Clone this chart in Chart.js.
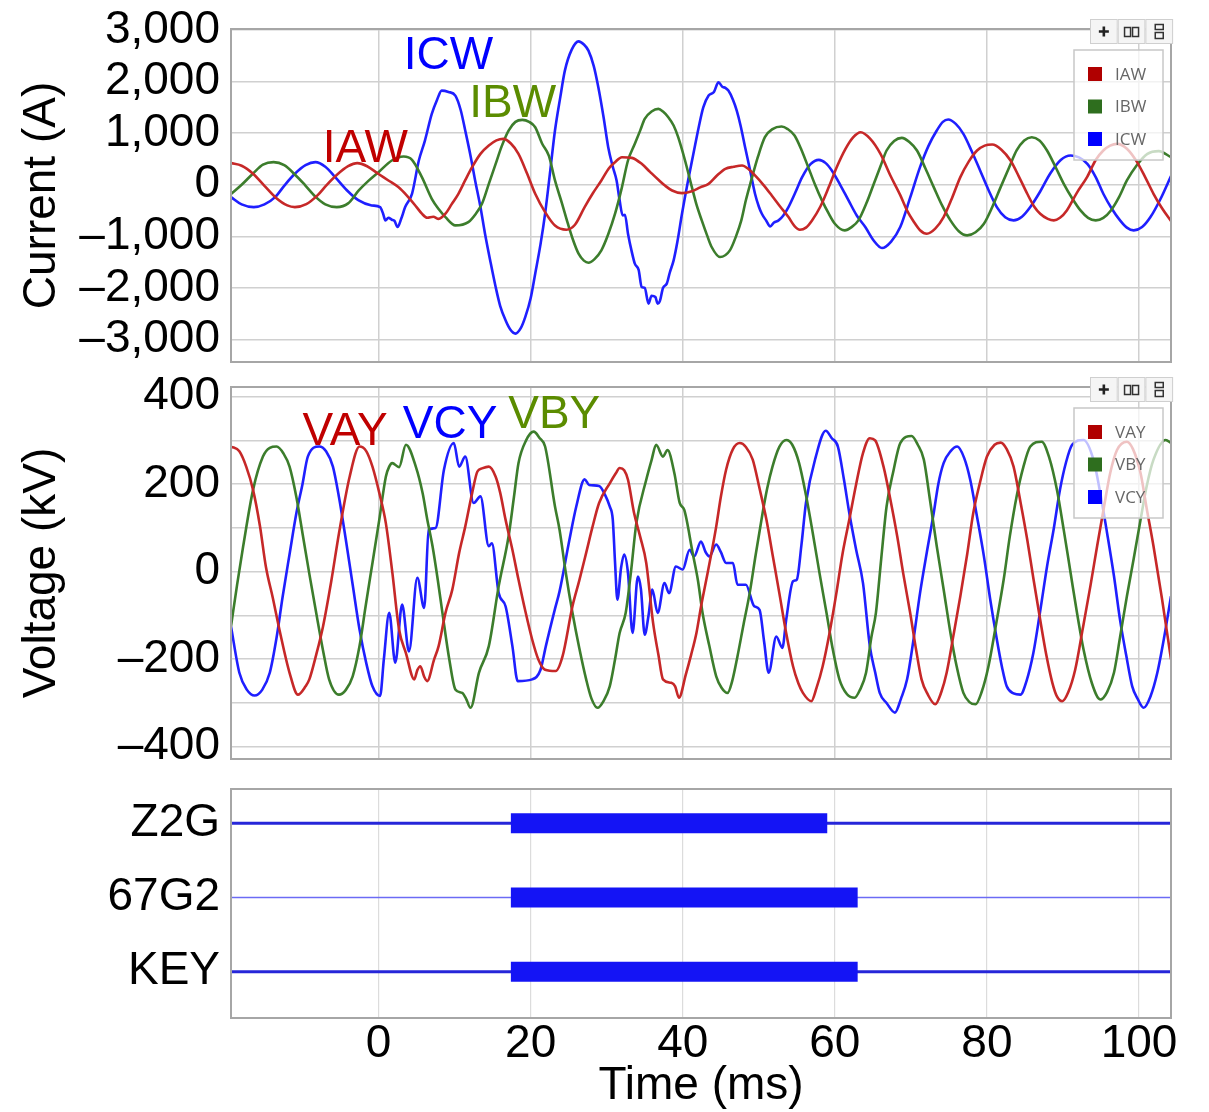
<!DOCTYPE html>
<html>
<head>
<meta charset="utf-8">
<title>Event record</title>
<script src="https://cdn.jsdelivr.net/npm/chart.js@4.4.0/dist/chart.umd.min.js"></script>
<style>
  body { margin: 0; background: #fff; }
  #wrap { position: relative; width: 1209px; height: 1112px; overflow: hidden; }
  #wrap canvas { position: absolute; left: 0; }
</style>
</head>
<body>
<div id="wrap">
  <canvas id="cur" width="1209" height="372" style="top:0px"></canvas>
  <canvas id="volt" width="1209" height="395" style="top:375px"></canvas>
  <canvas id="dig" width="1209" height="342" style="top:770px"></canvas>
</div>
<script>
// --- time axis ---
const T_MIN = -19.4;
const T_MAX = 104.2;
const TIME_TICKS = [0, 20, 40, 60, 80, 100];
const CURRENT_TICKS = [-3000, -2000, -1000, 0, 1000, 2000, 3000];
const VOLTAGE_TICKS = [-400, -300, -200, -100, 0, 100, 200, 300, 400];

// --- phase currents, [ms, A] ---
const iaw = [[-19.4,420],[-18,370],[-16.5,215],[-15,-20],[-13.5,-250],[-12,-400],[-11,-432],[-9.5,-375],[-8,-200],[-6.8,0],[-5.5,190],[-4,360],[-2.8,420],[-1.5,360],[0,210],[1.3,84],[2.6,-45],[3.7,-206],[5,-432],[5.7,-560],[6.4,-640],[7.2,-620],[7.9,-660],[8.8,-560],[9.6,-380],[10.5,-174],[11.4,90],[12.3,342],[13.4,600],[14.5,761],[15.5,860],[16.4,890],[17.4,800],[18.4,600],[19.5,230],[20.6,-174],[21.9,-530],[23.2,-790],[24.7,-871],[25.8,-780],[27.1,-432],[28.2,-160],[29.3,84],[30.3,320],[31.1,439],[32,535],[33.3,522],[34.6,406],[35.7,250],[36.8,97],[37.7,-20],[38.6,-110],[39.9,-161],[41.2,-123],[42.3,-50],[43.4,19],[44.5,180],[45.6,310],[46.7,350],[47.8,374],[48.6,310],[49.5,181],[50.6,0],[51.7,-206],[52.8,-420],[53.9,-626],[54.7,-800],[55.4,-871],[56.2,-830],[57,-690],[58.1,-420],[59.2,-45],[60.3,360],[61.4,697],[62.4,920],[63.4,1019],[64.6,900],[66,600],[67.3,180],[68.6,-200],[69.5,-500],[70.4,-720],[71.2,-880],[72.1,-948],[73.2,-850],[74.3,-626],[75.4,-260],[76.5,148],[77.6,450],[78.7,665],[79.7,760],[80.7,780],[81.9,680],[83.1,471],[84.2,160],[85.3,-174],[86.2,-420],[87,-561],[88,-660],[88.8,-690],[89.6,-640],[90.5,-497],[91.8,-160],[93.2,160],[94.3,480],[95.3,665],[96.2,760],[97.1,794],[98.4,700],[99.7,450],[100.8,150],[101.9,-174],[103,-450],[104.2,-700]];
const ibw = [[-19.4,-180],[-18,0],[-16.5,220],[-15.2,390],[-13.8,439],[-12.4,380],[-11,200],[-9.7,0],[-8.3,-230],[-7,-380],[-5.5,-432],[-4,-360],[-2.6,-110],[-1.3,80],[0,245],[1.75,471],[3.3,548],[4.4,484],[5.7,148],[7,-271],[7.9,-470],[8.8,-626],[10.1,-787],[11.8,-723],[12.8,-560],[13.6,-368],[14.5,19],[15.4,406],[16.2,750],[17.1,1052],[18,1220],[18.9,1258],[19.8,1220],[20.6,1116],[21.5,800],[22.4,560],[23.2,84],[24.1,-350],[24.9,-755],[25.6,-1080],[26.3,-1335],[27,-1470],[27.6,-1510],[28.4,-1440],[29.3,-1271],[30.2,-960],[31.1,-561],[32,-50],[32.8,471],[33.7,794],[34.4,1050],[35,1277],[35.9,1420],[36.8,1471],[37.4,1420],[38.1,1310],[38.8,1150],[39.4,923],[40.3,471],[41.2,-45],[41.8,-380],[42.5,-690],[43.2,-980],[43.8,-1206],[44.9,-1400],[46.2,-1271],[47,-1000],[47.7,-690],[48.3,-300],[49,84],[49.9,550],[50.8,923],[51.8,1080],[53,1129],[53.8,1080],[54.7,955],[55.6,680],[56.5,342],[57.4,0],[58.3,-303],[59.2,-560],[60,-755],[61.3,-884],[62.2,-820],[63.1,-690],[64.2,-340],[65.2,50],[66,360],[66.8,665],[67.8,850],[68.8,910],[69.8,830],[70.8,665],[71.9,320],[73,-45],[74.1,-400],[75.2,-690],[76.3,-900],[77.4,-981],[78.5,-920],[79.6,-755],[80.7,-430],[81.8,-45],[82.9,330],[83.9,665],[84.9,860],[85.9,923],[86.9,860],[87.9,665],[89,350],[90.1,19],[91.2,-260],[92.3,-497],[93.3,-640],[94.3,-690],[95.3,-640],[96.3,-497],[97.4,-230],[98.4,84],[99.7,380],[101.1,600],[102.6,652],[104.2,535]];
const icw = [[-19.4,-239],[-18,-380],[-16.4,-432],[-15,-380],[-13.6,-239],[-12.3,0],[-11,213],[-9.6,380],[-8.3,439],[-7,350],[-5.7,148],[-4.2,-100],[-2.6,-303],[-0.9,-400],[0.2,-432],[0.6,-560],[0.9,-690],[1.3,-640],[1.75,-677],[2.1,-700],[2.5,-819],[3,-650],[3.5,-432],[4.4,-174],[5.3,471],[6.1,858],[7,1374],[7.7,1650],[8.3,1826],[9.2,1800],[10.1,1729],[10.8,1450],[11.4,1052],[12.1,560],[12.7,84],[13.4,-430],[14,-948],[14.7,-1480],[15.4,-1981],[16,-2350],[16.7,-2626],[17.3,-2800],[18,-2884],[18.7,-2780],[19.3,-2561],[20,-2200],[20.6,-1723],[21.3,-1150],[21.9,-561],[22.6,300],[23.2,1052],[23.9,1700],[24.5,2213],[25.4,2620],[26.3,2781],[27,2720],[27.6,2600],[28.3,2300],[28.9,1890],[29.6,1300],[30.2,729],[30.8,350],[31.3,84],[31.7,-300],[32.1,-594],[32.4,-580],[32.8,-948],[33.3,-1300],[33.7,-1529],[34.2,-1650],[34.6,-1981],[35,-2000],[35.5,-2303],[35.9,-2150],[36.4,-2174],[36.7,-2303],[37,-2250],[37.4,-2000],[37.9,-1916],[38.3,-1700],[38.8,-1465],[39.3,-1100],[39.9,-561],[40.7,84],[41.4,600],[42.1,1116],[42.7,1500],[43.4,1729],[44.1,1800],[44.7,1987],[45.2,1900],[45.6,1880],[46,1826],[46.6,1650],[47.1,1439],[47.6,1150],[48.2,729],[48.9,250],[49.5,-174],[50,-420],[50.4,-561],[51,-700],[51.5,-806],[52,-730],[52.6,-690],[53.2,-600],[53.9,-432],[54.8,-150],[55.7,148],[56.8,400],[57.9,484],[58.8,420],[59.6,277],[60.7,0],[61.8,-303],[62.9,-600],[64,-819],[65.1,-1080],[66.2,-1226],[67.4,-1100],[68.6,-819],[69.9,-250],[71.2,342],[72.3,750],[73.4,1052],[74.2,1220],[74.9,1265],[75.9,1180],[76.9,987],[78,650],[79.1,277],[80.2,-100],[81.3,-432],[82.4,-630],[83.5,-690],[84.6,-620],[85.7,-432],[87,-130],[88.3,213],[89.7,480],[91,568],[92.1,530],[93.2,406],[94.3,150],[95.3,-174],[96.4,-460],[97.5,-690],[98.4,-830],[99.3,-884],[100.4,-820],[101.5,-626],[102.8,-280],[104.2,170]];

// --- phase voltages, [ms, kV] ---
const vay = [[-19.4,286],[-18.3,275],[-17.4,240],[-16.5,187],[-15.6,105],[-14.8,10],[-13.9,-60],[-13,-135],[-11.7,-231],[-10.6,-281],[-9.6,-262],[-9.1,-246],[-8.2,-190],[-7.3,-125],[-6.2,-20],[-5.2,88],[-3.8,217],[-2.5,286],[-1.6,275],[-0.8,240],[0.1,180],[0.96,111],[1.8,0],[2.7,-132],[3.6,-186],[4.7,-246],[5.1,-225],[5.5,-216],[6,-240],[6.4,-250],[7.3,-201],[7.9,-170],[8.8,-94],[9.7,-41],[10.6,43],[11.4,103],[12.3,179],[13,229],[13.6,236],[14.5,240],[15.4,217],[16,180],[16.7,119],[17.6,50],[18.4,-18],[19.3,-90],[20.2,-155],[21,-200],[21.9,-224],[23.3,-227],[24.2,-193],[25.5,-79],[26.4,-20],[27.3,43],[28.1,100],[29,157],[30.4,202],[31.2,225],[31.7,237],[32.3,232],[32.8,210],[33.6,134],[34.4,80],[35.2,20],[36.1,-117],[36.8,-190],[37.4,-246],[38.5,-254],[39,-262],[39.5,-288],[40.4,-235],[41.1,-190],[41.8,-140],[42.4,-80],[43.1,-18],[43.8,45],[44.4,103],[45,170],[45.7,233],[46.6,280],[47.5,294],[48.3,285],[49.2,256],[50.1,190],[51,119],[51.8,40],[52.7,-49],[53.6,-140],[54.5,-216],[55.2,-255],[55.8,-277],[56.9,-296],[57.6,-265],[58.4,-216],[59.3,-140],[60.2,-49],[61,40],[61.9,119],[62.8,200],[63.7,271],[64.6,305],[65.3,300],[66.4,240],[67.3,165],[68.2,81],[69,-5],[69.9,-94],[70.7,-180],[71.4,-246],[72.2,-280],[73.2,-303],[74,-275],[74.7,-231],[75.6,-145],[76.5,-56],[77.4,40],[78.2,134],[79.1,205],[80,263],[81,290],[81.8,295],[82.6,280],[83.5,240],[84.4,160],[85.3,73],[86.1,-15],[87,-110],[87.8,-190],[88.6,-254],[89.2,-285],[89.9,-296],[90.7,-275],[91.6,-224],[92.6,-130],[93.6,-33],[94.5,60],[95.4,149],[96.2,225],[97.1,278],[98.4,297],[99.2,280],[100.2,225],[101,145],[101.9,58],[103,-60],[104.2,-200]];
const vby = [[-19.4,-125],[-18.6,-30],[-17.8,58],[-16.5,187],[-15.2,263],[-14.3,283],[-13.4,286],[-12.5,270],[-11.7,240],[-10.8,170],[-10,88],[-9.1,-5],[-8.2,-94],[-7.3,-180],[-6.5,-246],[-5.2,-281],[-4.3,-270],[-3.4,-239],[-2.5,-170],[-1.7,-79],[-0.8,20],[0.1,119],[0.96,217],[1.4,240],[1.8,248],[2.7,239],[3.6,290],[4.9,240],[5.8,179],[6.4,120],[7.1,58],[7.8,-20],[8.4,-94],[9.3,-200],[10.1,-269],[11,-277],[11.5,-290],[12.1,-311],[13.2,-231],[14.5,-170],[15.8,-33],[17.1,81],[17.8,170],[18.4,248],[19.4,300],[20.4,320],[21.2,305],[21.9,286],[23.2,149],[23.8,96],[24.6,0],[25.5,-94],[26.4,-175],[27.3,-246],[28,-290],[28.8,-311],[29.6,-295],[30.4,-262],[31.1,-200],[31.7,-140],[32.5,-94],[33.2,1],[33.9,111],[35.2,210],[35.9,255],[36.5,290],[37.4,263],[38,278],[38.9,225],[39.6,157],[40.2,141],[41.3,43],[42,-20],[42.6,-94],[43.5,-170],[44.4,-239],[45.1,-265],[45.9,-277],[46.5,-250],[47.2,-193],[48,-120],[48.8,-49],[49.6,40],[50.5,134],[51.1,190],[51.8,240],[52.7,285],[53.6,301],[54.4,290],[55.3,248],[56.2,175],[57.1,88],[58,-5],[58.9,-94],[59.7,-175],[60.6,-246],[61.6,-280],[62.6,-288],[63.3,-270],[64.1,-231],[64.8,-150],[65.4,-94],[66.1,30],[66.8,149],[67.7,230],[68.6,294],[70.1,310],[70.9,290],[71.7,256],[72.5,165],[73.4,58],[74.3,-40],[75.2,-140],[76,-215],[76.9,-277],[77.7,-298],[78.5,-303],[79.3,-275],[80.2,-216],[81.2,-120],[82.2,-18],[83,80],[83.9,172],[84.8,240],[85.7,286],[87.2,297],[88.2,260],[89.2,187],[90.1,95],[91,-3],[91.8,-90],[92.7,-178],[93.8,-255],[94.9,-292],[95.8,-275],[96.7,-231],[97.5,-150],[98.4,-56],[99.3,30],[100.2,119],[101,195],[101.9,256],[103.5,301],[104.2,294]];
const vcy = [[-19.4,-125],[-18.3,-231],[-17.3,-270],[-16.3,-283],[-15.3,-270],[-14.3,-231],[-13.4,-150],[-12.6,-56],[-11.7,40],[-10.8,134],[-10,200],[-9.3,263],[-7.8,286],[-6.9,275],[-6,240],[-5.2,170],[-4.3,73],[-3.4,-30],[-2.5,-132],[-1.6,-210],[-0.8,-262],[0.2,-284],[0.7,-200],[1.4,-94],[2.2,-208],[3.1,-75],[4,-182],[5.1,-14],[6,-83],[6.6,96],[7.5,100],[8.6,233],[9.9,294],[10.6,240],[11.4,263],[12.5,157],[13.4,172],[14.5,58],[14.9,65],[15.8,-49],[16.7,-79],[17.6,-170],[18.3,-250],[20.2,-246],[21.3,-224],[22,-170],[23.2,-85],[23.8,-45],[25.1,73],[26,149],[27.1,211],[27.7,198],[29,196],[29.8,175],[30.4,149],[30.8,119],[31.1,20],[31.4,-64],[31.9,10],[32.3,39],[32.8,-3],[33.4,-140],[34.1,-11],[34.5,-40],[35,-144],[35.5,-100],[36,-41],[36.7,-94],[37.6,-26],[38.2,-49],[39.1,12],[40,5],[40.9,50],[41.5,35],[42.4,69],[43,45],[43.5,35],[44.4,62],[45,45],[45.7,20],[46.6,20],[47.2,-30],[48.3,-30],[49.4,-79],[50.1,-87],[50.7,-160],[51.3,-231],[52.3,-148],[53.1,-174],[53.6,-110],[54.5,-22],[55,-18],[55.6,60],[56.2,157],[57.5,263],[58.8,322],[59.6,305],[60.4,286],[61.2,210],[61.9,134],[62.8,50],[63.7,-26],[64.6,-170],[65.3,-230],[65.9,-277],[66.8,-300],[67.9,-322],[68.7,-290],[69.5,-246],[70.3,-160],[71.2,-49],[72.1,45],[73,134],[73.6,200],[74.3,248],[75.2,275],[76.1,286],[77,260],[77.8,210],[78.7,125],[79.6,35],[80.4,-60],[81.3,-155],[82,-220],[82.6,-262],[83.5,-278],[84.4,-281],[85.2,-250],[86.1,-186],[87,-90],[87.9,12],[88.8,100],[89.6,187],[90.4,250],[91.2,290],[92.7,301],[94,256],[94.9,180],[95.8,88],[96.7,-10],[97.5,-110],[98.3,-190],[99.1,-262],[99.8,-290],[100.6,-311],[101.5,-285],[102.4,-231],[103.3,-150],[104.2,-56]];

// --- relay elements ---
const DIGITAL_LABELS = ['Z2G', '67G2', 'KEY'];
const PICKUP_MS = [17.4, 17.4, 17.4];
const DROPOUT_MS = [59.0, 63.0, 63.0];

// --- styles ---
const FONT = "'Liberation Sans', Arial, sans-serif";
const RED = '#c62828', GREEN = '#3c7d2c', BLUE = '#1f1fff';
const SWATCH = ['#b00000', '#2e6e1e', '#0000ff'];
const GRID = '#d0d0d0';

Chart.defaults.font.family = FONT;
Chart.defaults.color = '#000';

const toXY = pts => pts.map(([x, y]) => ({ x, y }));
const fmtNum = v => (v < 0 ? '\u2013' : '') + Math.abs(v).toLocaleString('en-US');

// keep the plot box fixed: no extra room for overflowing tick labels
const noOverflow = s => { s.paddingTop = 0; s.paddingBottom = 0; s.paddingLeft = 0; s.paddingRight = 0; };

function wave(label, pts, color) {
  return {
    label, data: toXY(pts), borderColor: color, backgroundColor: color,
    borderWidth: 2.6, pointRadius: 0, cubicInterpolationMode: 'monotone', fill: false
  };
}

function timeScale(showLabels) {
  return {
    type: 'linear', min: T_MIN, max: T_MAX,
    afterBuildTicks: s => { s.ticks = TIME_TICKS.map(v => ({ value: v })); },
    afterFit: s => { s.height = showLabels ? 94 : 0; noOverflow(s); },
    grid: { color: showLabels ? '#dcdcdc' : GRID, lineWidth: showLabels ? 1.2 : 1.5, drawTicks: false },
    border: { display: false },
    ticks: { display: showLabels, padding: 3, font: { size: 46, lineHeight: 1 }, callback: v => fmtNum(v) },
    title: { display: showLabels, text: 'Time (ms)', font: { size: 46 }, padding: { top: 0, bottom: -2 } }
  };
}

function valueScale(min, max, ticks, label, everyOther) {
  return {
    type: 'linear', min, max,
    afterBuildTicks: s => { s.ticks = ticks.map(v => ({ value: v })); },
    afterFit: s => { s.width = 231; noOverflow(s); },
    grid: { color: GRID, lineWidth: 1.5, drawTicks: false },
    border: { display: false },
    ticks: {
      padding: 11, font: { size: 46, lineHeight: 0.4 },
      callback: v => (everyOther && v % 200 !== 0) ? '' : fmtNum(v)
    },
    title: { display: true, text: label, font: { size: 46 }, padding: { top: 15, bottom: 0 } }
  };
}

// gray box around the plot area
const framePlugin = {
  id: 'frame',
  afterDatasetsDraw(chart) {
    const { ctx, chartArea: a } = chart;
    ctx.save();
    ctx.strokeStyle = '#a6a6a6';
    ctx.lineWidth = 2;
    ctx.strokeRect(a.left, a.top, a.right - a.left, a.bottom - a.top);
    ctx.restore();
  }
};

// channel names written next to the traces
function tagPlugin(tags) {
  return {
    id: 'tags',
    afterDatasetsDraw(chart) {
      const { ctx, scales } = chart;
      ctx.save();
      ctx.font = `46px ${FONT}`;
      ctx.textAlign = 'center';
      ctx.textBaseline = 'alphabetic';
      tags.forEach(tg => {
        ctx.fillStyle = tg.color;
        ctx.fillText(tg.text, scales.x.getPixelForValue(tg.t), scales.y.getPixelForValue(tg.v));
      });
      ctx.restore();
    }
  };
}

// small legend box + toolbar buttons at the top right
function cornerPlugin() {
  return {
    id: 'corner',
    afterDraw(chart) {
      const { ctx, chartArea: a } = chart;
      ctx.save();
      // legend
      const bx = a.right - 97, by = a.top + 21, bw = 89, bh = 110;
      ctx.fillStyle = 'rgba(255,255,255,0.72)';
      ctx.fillRect(bx, by, bw, bh);
      ctx.strokeStyle = '#c8c8c8';
      ctx.lineWidth = 1.5;
      ctx.strokeRect(bx, by, bw, bh);
      ctx.font = "17px 'Open Sans', sans-serif";
      ctx.textBaseline = 'middle';
      ctx.textAlign = 'left';
      chart.data.datasets.forEach((ds, i) => {
        const cy = by + 24 + i * 32.5;
        ctx.fillStyle = SWATCH[i];
        ctx.fillRect(bx + 14, cy - 7, 14, 14);
        ctx.fillStyle = '#666';
        ctx.fillText(ds.label, bx + 41, cy + 1);
      });
      // toolbar
      const tx = 1090, ty = a.top - 10, tw = 27.7, th = 25;
      for (let k = 0; k < 3; k++) {
        ctx.fillStyle = '#f5f5f5';
        ctx.fillRect(tx + k * tw, ty, tw, th);
        ctx.strokeStyle = '#cfcfcf';
        ctx.lineWidth = 1;
        ctx.strokeRect(tx + k * tw + 0.5, ty + 0.5, tw - 1, th - 1);
      }
      const cy = a.top + 2.5;
      ctx.strokeStyle = '#222';
      ctx.lineWidth = 2.6;
      ctx.beginPath();
      ctx.moveTo(tx + tw / 2 - 5, cy); ctx.lineTo(tx + tw / 2 + 5, cy);
      ctx.moveTo(tx + tw / 2, cy - 5); ctx.lineTo(tx + tw / 2, cy + 5);
      ctx.stroke();
      ctx.lineWidth = 1.5;
      ctx.strokeStyle = '#333';
      const c2 = tx + tw * 1.5;
      ctx.strokeRect(c2 - 7, cy - 4, 6, 9);
      ctx.strokeRect(c2 + 1, cy - 4, 6, 9);
      const c3 = tx + tw * 2.5;
      ctx.strokeRect(c3 - 4, cy - 7, 8, 5);
      ctx.strokeRect(c3 - 4, cy + 1, 8, 6);
      ctx.restore();
    }
  };
}

const baseOptions = (yScale, showX, padding) => ({
  responsive: false,
  animation: false,
  layout: { padding },
  plugins: { legend: { display: false }, tooltip: { enabled: false } },
  scales: { x: timeScale(showX), y: yScale }
});

// current channels
new Chart(document.getElementById('cur'), {
  type: 'line',
  data: { datasets: [wave('IAW', iaw, RED), wave('IBW', ibw, GREEN), wave('ICW', icw, BLUE)] },
  options: baseOptions(valueScale(-3435, 3020, CURRENT_TICKS, 'Current (A)', false), false,
    { top: 29, bottom: 10, left: 0, right: 38 }),
  plugins: [framePlugin, tagPlugin([
    { text: 'IAW', t: -1.75, v: 439, color: '#c00000' },
    { text: 'ICW', t: 9.2, v: 2252, color: '#0000ff' },
    { text: 'IBW', t: 17.65, v: 1312, color: '#5b8c00' }
  ]), cornerPlugin()]
});

// voltage channels
new Chart(document.getElementById('volt'), {
  type: 'line',
  data: { datasets: [wave('VAY', vay, RED), wave('VBY', vby, GREEN), wave('VCY', vcy, BLUE)] },
  options: baseOptions(valueScale(-428, 422, VOLTAGE_TICKS, 'Voltage (kV)', true), false,
    { top: 12, bottom: 11, left: 0, right: 38 }),
  plugins: [framePlugin, tagPlugin([
    { text: 'VAY', t: -4.4, v: 290, color: '#c00000' },
    { text: 'VCY', t: 9.4, v: 306, color: '#0000ff' },
    { text: 'VBY', t: 23.1, v: 329, color: '#5b8c00' }
  ]), cornerPlugin()]
});

// digital elements: thin trace when off, thick band while asserted (band on top)
const digitalSets = [];
DIGITAL_LABELS.forEach((name, i) => {
  const lvl = DIGITAL_LABELS.length - i;
  const thin = name === '67G2';
  digitalSets.push({
    label: name, order: 2, data: [{ x: T_MIN, y: lvl }, { x: T_MAX, y: lvl }],
    borderColor: thin ? '#6b6bf5' : '#2626d9', borderWidth: thin ? 1.6 : 3, pointRadius: 0
  });
  digitalSets.push({
    label: name + ' on', order: 1, data: [{ x: PICKUP_MS[i], y: lvl }, { x: DROPOUT_MS[i], y: lvl }],
    borderColor: '#1414f5', borderWidth: 20, borderCapStyle: 'butt', pointRadius: 0
  });
});

new Chart(document.getElementById('dig'), {
  type: 'line',
  data: { datasets: digitalSets },
  options: baseOptions({
    type: 'linear', min: 0.376, max: 3.462,
    afterBuildTicks: s => { s.ticks = [1, 2, 3].map(v => ({ value: v })); },
    afterFit: s => { s.width = 231; noOverflow(s); },
    grid: { display: false, drawTicks: false },
    border: { display: false },
    ticks: { padding: 11, font: { size: 46, lineHeight: 0.4 },
      callback: v => DIGITAL_LABELS[DIGITAL_LABELS.length - v] }
  }, true, { top: 19, bottom: 0, left: 0, right: 38 }),
  plugins: [framePlugin]
});
</script>
</body>
</html>
